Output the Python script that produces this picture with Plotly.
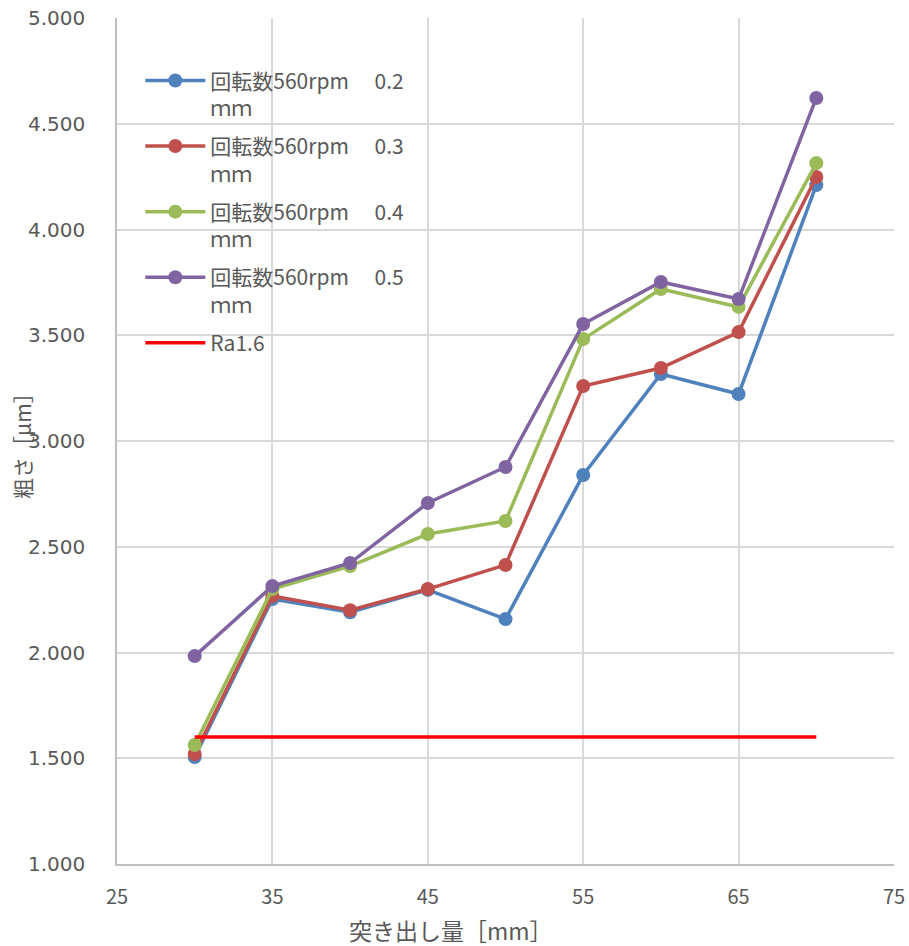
import plotly.graph_objects as go

x_vals = [30, 35, 40, 45, 50, 55, 60, 65, 70]
names = ["回転数560rpm　 0.2<br>ｍｍ", "回転数560rpm　 0.3<br>ｍｍ",
         "回転数560rpm　 0.4<br>ｍｍ", "回転数560rpm　 0.5<br>ｍｍ"]
s02 = [1.506, 2.253, 2.190, 2.296, 2.158, 2.839, 3.317, 3.222, 4.210]
s03 = [1.520, 2.267, 2.200, 2.300, 2.414, 3.260, 3.345, 3.515, 4.248]
s04 = [1.563, 2.300, 2.409, 2.560, 2.622, 3.482, 3.719, 3.634, 4.314]
s05 = [1.983, 2.314, 2.423, 2.707, 2.877, 3.553, 3.752, 3.671, 4.622]
ra_x = [30, 70]
ra_y = [1.6, 1.6]
x_title = "突き出し量［mm］"
y_title = "粗さ［μm］"
colors = ["#4F81BD", "#C0504D", "#9BBB59", "#8064A2"]

fig = go.Figure()
for i, (name, ys, c) in enumerate(zip(names, [s02, s03, s04, s05], colors)):
    fig.add_trace(go.Scatter(x=x_vals, y=ys, name=name, mode="lines+markers",
                             legendgroup=f"g{i}",
                             line=dict(color=c, width=3.5),
                             marker=dict(color=c, size=14)))
fig.add_trace(go.Scatter(x=ra_x, y=ra_y, name="Ra1.6", mode="lines",
                         legendgroup="ra",
                         line=dict(color="#FF0000", width=3.5)))

fig.add_annotation(text=x_title, xref="paper", yref="paper",
                   x=0.43, y=-(930 - 864) / 846, xanchor="center", yanchor="middle",
                   showarrow=False,
                   font=dict(size=23, color="#595959", family="Noto Sans CJK JP"))
fig.add_annotation(text=y_title, xref="paper", yref="paper",
                   x=(22 - 117) / 777, y=0.5, xanchor="center", yanchor="middle",
                   textangle=-90, showarrow=False,
                   font=dict(size=21, color="#595959", family="Noto Sans CJK JP"))

fig.update_layout(
    width=909, height=946,
    margin=dict(l=117, r=15, t=18, b=82),
    paper_bgcolor="white", plot_bgcolor="white",
    font=dict(family="Noto Sans CJK JP, Noto Sans, sans-serif", color="#595959"),
    showlegend=True,
    legend=dict(x=0.03, y=0.95, xanchor="left", yanchor="top",
                bgcolor="rgba(0,0,0,0)",
                font=dict(size=21, color="#595959", family="Noto Sans CJK JP"),
                tracegroupgap=8, itemwidth=60, valign="top"),
    xaxis=dict(range=[25, 75], tick0=25, dtick=10, showgrid=True,
               gridcolor="#D9D9D9", gridwidth=1.5, showline=True,
               linecolor="#BFBFBF", linewidth=1.5, zeroline=False,
               ticks="", automargin=False, ticklabelstandoff=14,
               tickfont=dict(size=20, color="#595959",
                             family="Liberation Sans Narrow, Noto Sans CJK JP")),
    yaxis=dict(range=[1, 5], dtick=0.5, tickformat=".3f", showgrid=True,
               gridcolor="#D9D9D9", gridwidth=1.5, showline=True,
               linecolor="#BFBFBF", linewidth=1.5, zeroline=False,
               ticks="", automargin=False, ticklabelstandoff=26,
               tickfont=dict(size=20, color="#595959", family="DejaVu Sans")),
)

fig.write_html("out.html", config={"displayModeBar": False},
               post_script="document.body.style.margin='0px';")
